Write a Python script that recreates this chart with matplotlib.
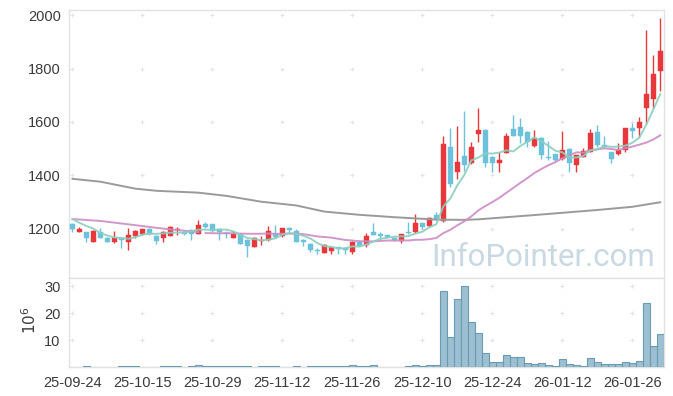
import matplotlib
matplotlib.use('Agg')
import matplotlib.pyplot as plt
import numpy as np
import pandas as pd

# ---------------- data ----------------
tick_labels = ['25-09-24', '25-10-15', '25-10-29', '25-11-12', '25-11-26',
               '25-12-10', '25-12-24', '26-01-12', '26-01-26']
tick_step = 10  # trading days between labelled dates

opens = [1218, 1189, 1186, 1151, 1186, 1166, 1149, 1166, 1149, 1174,
         1180, 1199, 1174, 1166, 1174, 1195, 1189, 1196, 1181, 1218,
         1218, 1198, 1185, 1166, 1179, 1159, 1131, 1154, 1156, 1181,
         1173, 1204, 1191, 1159, 1141, 1121, 1110, 1116, 1131, 1129,
         1114, 1151, 1138, 1187, 1180, 1176, 1166, 1155, 1187, 1187,
         1220, 1210, 1251, 1230, 1506, 1414, 1472, 1446, 1556, 1570,
         1469, 1447, 1485, 1574, 1581, 1563, 1510, 1540, 1469, 1479,
         1461, 1499, 1437, 1470, 1489, 1563, 1514, 1487, 1480, 1496,
         1578, 1578, 1654, 1688, 1793]
highs = [1220, 1205, 1188, 1196, 1204, 1168, 1191, 1168, 1201, 1195,
         1200, 1204, 1175, 1191, 1209, 1206, 1193, 1197, 1234, 1224,
         1219, 1199, 1191, 1191, 1183, 1160, 1169, 1174, 1209, 1214,
         1204, 1206, 1199, 1160, 1148, 1129, 1141, 1134, 1132, 1130,
         1153, 1159, 1185, 1223, 1188, 1177, 1170, 1180, 1225, 1256,
         1222, 1245, 1264, 1546, 1576, 1585, 1640, 1526, 1651, 1572,
         1471, 1489, 1558, 1625, 1614, 1565, 1569, 1542, 1530, 1481,
         1566, 1501, 1478, 1501, 1573, 1590, 1546, 1489, 1520, 1579,
         1596, 1620, 1945, 1851, 1989]
lows = [1189, 1187, 1149, 1150, 1164, 1149, 1148, 1126, 1121, 1164,
        1178, 1176, 1141, 1149, 1172, 1176, 1176, 1159, 1180, 1201,
        1189, 1159, 1164, 1164, 1144, 1094, 1130, 1139, 1154, 1164,
        1169, 1189, 1149, 1134, 1114, 1104, 1109, 1104, 1106, 1104,
        1106, 1134, 1130, 1175, 1158, 1169, 1155, 1145, 1180, 1185,
        1200, 1208, 1234, 1226, 1355, 1385, 1415, 1444, 1524, 1430,
        1413, 1413, 1483, 1547, 1522, 1508, 1508, 1461, 1458, 1449,
        1459, 1414, 1414, 1468, 1488, 1505, 1501, 1448, 1476, 1488,
        1539, 1543, 1595, 1651, 1718]
closes = [1199, 1199, 1166, 1191, 1164, 1149, 1166, 1156, 1176, 1193,
          1199, 1181, 1154, 1186, 1205, 1200, 1181, 1181, 1214, 1206,
          1193, 1189, 1180, 1180, 1144, 1134, 1166, 1159, 1191, 1169,
          1201, 1196, 1149, 1151, 1119, 1115, 1139, 1133, 1124, 1120,
          1151, 1136, 1173, 1178, 1173, 1170, 1156, 1179, 1182, 1220,
          1205, 1240, 1235, 1517, 1369, 1450, 1438, 1506, 1570, 1448,
          1446, 1457, 1548, 1549, 1549, 1525, 1539, 1478, 1464, 1456,
          1494, 1445, 1476, 1491, 1560, 1514, 1507, 1462, 1495, 1578,
          1568, 1600, 1705, 1780, 1866]
# volume in millions of shares
volumes = [0.05, 0.05, 0.35, 0.05, 0.05, 0.05, 0.05, 0.35, 0.35, 0.35,
           0.05, 0.05, 0.05, 0.35, 0.35, 0.35, 0.05, 0.35, 0.8, 0.35,
           0.35, 0.35, 0.35, 0.35, 0.35, 0.35, 0.05, 0.35, 0.35, 0.35,
           0.05, 0.05, 0.35, 0.05, 0.35, 0.35, 0.35, 0.35, 0.35, 0.35,
           0.8, 0.35, 0.35, 0.8, 0.05, 0.05, 0.05, 0.05, 0.35, 0.8,
           0.4, 0.7, 0.7, 28.1, 11.4, 25.2, 30.1, 16.7, 12.6, 5.2,
           1.9, 1.9, 4.4, 3.7, 3.7, 1.5, 1.1, 1.5, 0.7, 0.4,
           3.0, 1.1, 0.7, 0.4, 3.3, 1.9, 1.1, 1.1, 1.1, 1.9,
           1.5, 2.2, 23.7, 7.8, 12.2]

# moving-average values before enough in-window history exists
ma5_head = [1236, 1222, 1210, 1200]
ma20_head_idx = [0, 4, 9, 13, 18]
ma20_head = [1236, 1229, 1213, 1200, 1187]
# long moving average (history outside the window), read at sample points
ma_long_idx = [0, 4, 9, 12, 18, 22, 27, 32, 36, 41, 46, 52, 56, 58, 66, 75, 80, 84]
ma_long = [1387, 1376, 1350, 1342, 1335, 1323, 1301, 1287, 1264, 1252, 1243,
           1234, 1233, 1235, 1251, 1270, 1282, 1299]

# ---------------- figure ----------------
plt.rcParams['font.family'] = ['Liberation Sans', 'DejaVu Sans']
RED = '#e8383c'
BLUE = '#6cc2da'
SPINE = '#e2e2e2'
TXT = '#3a3a3a'
GRIDC = '#e4e4e4'

n = len(closes)
x = np.arange(n)
o = np.array(opens, float)
c = np.array(closes, float)
h = np.array(highs, float)
l = np.array(lows, float)
up = c >= o
colors = np.where(up, RED, BLUE)

cs = pd.Series(c)
ma5 = cs.rolling(5).mean().to_numpy()
ma5[:4] = ma5_head
ma20 = cs.rolling(20).mean().to_numpy()

fig = plt.figure(figsize=(6.73, 3.96), dpi=100)
ax = fig.add_axes([69 / 673, 1 - 278 / 396, 594.7 / 673, 268 / 396])
axv = fig.add_axes([69 / 673, 1 - 367.3 / 396, 594.7 / 673, 89.3 / 396], sharex=ax)

# watermark
ax.text(0.9854, 0.044, 'InfoPointer.com', transform=ax.transAxes, ha='right',
        va='baseline', fontsize=22.5, color='#c8d9e4', family=['Roboto', 'DejaVu Sans'],
        zorder=0)

# candles
ax.vlines(x, l, h, colors=colors, lw=1.0, zorder=2)
body_h = np.maximum(np.abs(c - o), 2.0)
ax.bar(x, body_h, bottom=np.minimum(o, c), width=0.68, color=colors,
       edgecolor=colors, linewidth=0.3, zorder=3)

# moving averages
ax.plot(ma_long_idx, ma_long, color='#9a9a9a', lw=1.4, zorder=4)
ax.plot(ma20_head_idx, ma20_head, color='#cc8cc6', lw=1.4, alpha=0.9, zorder=4)
ax.plot(x[19:], ma20[19:], color='#cc8cc6', lw=1.4, alpha=0.9, zorder=4)
ax.plot(x, ma5, color='#8ccfbf', lw=1.4, alpha=0.9, zorder=5)

ax.set_xlim(-0.5, n - 0.5)
ax.set_ylim(1015, 2020)
yt = [1200, 1400, 1600, 1800, 2000]
ax.set_yticks(yt)
xt = np.arange(0, n, tick_step)
ax.set_xticks(xt)
ax.tick_params(axis='x', labelbottom=False, length=0)
ax.tick_params(axis='y', length=0, pad=6, labelsize=10.5, labelcolor=TXT)
gx, gy = np.meshgrid(xt, yt)
ax.scatter(gx.ravel(), gy.ravel(), marker='+', s=12, color=GRIDC, lw=0.8, zorder=1)

# volume
axv.bar(x, volumes, width=1.0, color='#9cc0d1', edgecolor='#6a9bb3', linewidth=0.8, zorder=3)
axv.set_ylim(0, 33.1)
vt = [10, 20, 30]
axv.set_yticks(vt)
axv.set_xticks(xt)
axv.set_xticklabels(tick_labels)
axv.tick_params(axis='both', length=0, labelsize=10.5, labelcolor=TXT)
axv.tick_params(axis='y', pad=6)
axv.tick_params(axis='x', pad=6)
gx, gy = np.meshgrid(xt, vt)
axv.scatter(gx.ravel(), gy.ravel(), marker='+', s=12, color=GRIDC, lw=0.8, zorder=1)
fig.text(30 / 673, 1 - 320 / 396, r'$10^6$', rotation=90, ha='center', va='center',
         fontsize=11, color=TXT)

for a in (ax, axv):
    for s in a.spines.values():
        s.set_color(SPINE)
        s.set_linewidth(1.0)

fig.savefig('out.png', dpi=100)
